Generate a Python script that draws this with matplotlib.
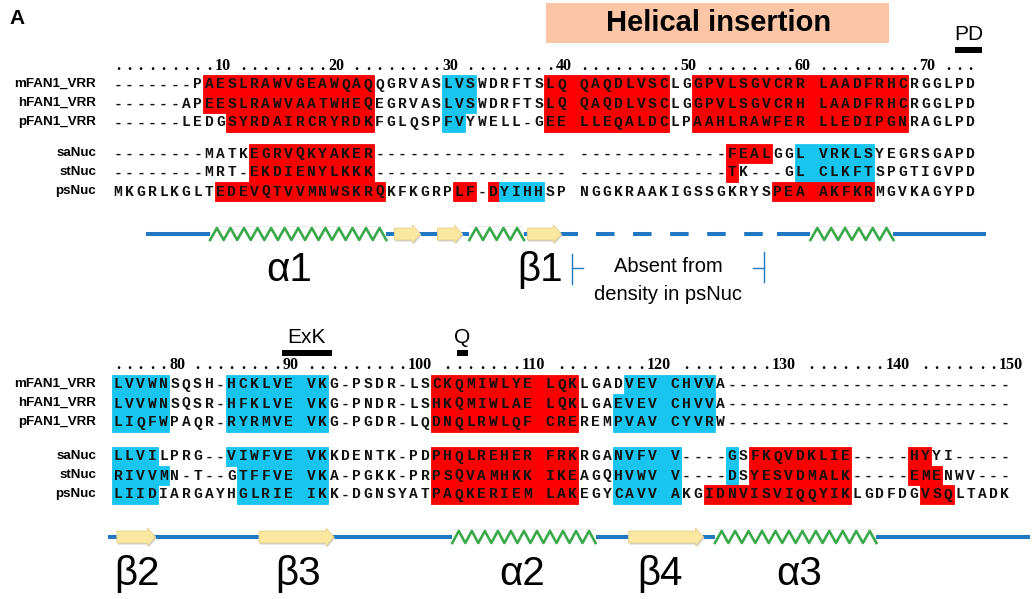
import numpy as np
import matplotlib
matplotlib.use("Agg")
import matplotlib.pyplot as plt
from matplotlib.patches import Rectangle, Polygon
from matplotlib import font_manager

# ---------------- data ----------------
names = ["mFAN1_VRR", "hFAN1_VRR", "pFAN1_VRR", "saNuc", "stNuc", "psNuc"]

block1_seqs = [
    "-------PAESLRAWVGEAWQAQQGRVASLVSWDRFTSLQ QAQDLVSCLGGPVLSGVCRR LAADFRHCRGGLPD",
    "------APEESLRAWVAATWHEQEGRVASLVSWDRFTSLQ QAQDLVSCLGGPVLSGVCRH LAADFRHCRGGLPD",
    "------LEDGSYRDAIRCRYRDKFGLQSPFVYWELL-GEE LLEQALDCLPAAHLRAWFER LLEDIPGNRAGLPD",
    "--------MATKEGRVQKYAKER----------------- -------------FEALGGL VRKLSYEGRSGAPD",
    "--------MRT-EKDIENYLKKK----------------- -------------TK---GL CLKFTSPGTIGVPD",
    "MKGRLKGLTEDEVQTVVMNWSKRQKFKGRPLF-DYIHHSP NGGKRAAKIGSSGKRYSPEA AKFKRMGVKAGYPD",
]
block2_seqs = [
    "LVVWNSQSH-HCKLVE VKG-PSDR-LSCKQMIWLYE LQKLGADVEV CHVVA-------------------------",
    "LVVWNSQSR-HFKLVE VKG-PNDR-LSHKQMIWLAE LQKLGAEVEV CHVVA-------------------------",
    "LIQFWPAQR-RYRMVE VKG-PGDR-LQDNQLRWLQF CREREMPVAV CYVRW-------------------------",
    "LLVILPRG--VIWFVE VKKDENTK-PDPHQLREHER FRKRGANVFV V----GSFKQVDKLIE-----HYYI-----",
    "RIVVMN-T--GTFFVE VKA-PGKK-PRPSQVAMHKK IKEAGQHVWV V----DSYESVDMALK-----EMENWV---",
    "LIIDIARGAYHGLRIE IKK-DGNSYATPAQKERIEM LAKEGYCAVV AKGIDNVISVIQQYIKLGDFDGVSQLTADK",
]
block_first_residue = [1, 75]

# highlighted column ranges (start, end, kind) per row
block1_hl = [
    [(9, 23, "r"), (30, 32, "c"), (39, 49, "r"), (52, 70, "r")],
    [(9, 23, "r"), (30, 32, "c"), (39, 49, "r"), (52, 70, "r")],
    [(11, 23, "r"), (30, 31, "c"), (39, 49, "r"), (52, 70, "r")],
    [(13, 23, "r"), (55, 58, "r"), (61, 67, "c")],
    [(13, 23, "r"), (55, 55, "r"), (61, 67, "c")],
    [(10, 24, "r"), (31, 32, "r"), (34, 34, "r"), (35, 38, "c"), (59, 67, "r")],
]
block2_hl = [
    [(1, 5, "c"), (11, 19, "c"), (29, 41, "r"), (46, 53, "c")],
    [(1, 5, "c"), (11, 19, "c"), (29, 41, "r"), (45, 53, "c")],
    [(1, 5, "c"), (11, 19, "c"), (29, 41, "r"), (45, 53, "c")],
    [(1, 4, "c"), (11, 19, "c"), (29, 41, "r"), (45, 50, "c"), (55, 55, "c"),
     (57, 65, "r"), (71, 72, "r")],
    [(1, 5, "c"), (12, 19, "c"), (29, 41, "r"), (45, 50, "c"), (55, 55, "c"),
     (57, 65, "r"), (71, 73, "r")],
    [(1, 4, "c"), (12, 19, "c"), (29, 41, "r"), (45, 50, "c"), (53, 65, "r"),
     (72, 74, "r")],
]

# secondary structure (kind, start col, end col)
block1_ss = [("helix", 9.1, 24.6), ("strand", 25.3, 27.6), ("strand", 29.1, 31.3),
             ("helix", 31.9, 36.7), ("strand", 37.0, 40.0), ("helix", 61.9, 69.2)]
block1_line = (3.5, 77.3)
block1_gap = (40.0, 59.0)
block2_ss = [("strand", 0.9, 4.3), ("strand", 13.4, 20.0), ("helix", 30.4, 43.0),
             ("strand", 45.9, 52.5), ("helix", 53.5, 67.7)]
block2_line = (0.1, 81.2)

block1_labels = [("α1", 16.1), ("β1", 38.1)]
block2_labels = [("β2", 2.7), ("β3", 16.8), ("α2", 36.5), ("β4", 48.7), ("α3", 60.9)]

# motif bars: (label, block, start col, end col)
motifs = [("PD", 0, 74.6, 77.0), ("ExK", 1, 15.4, 19.8), ("Q", 1, 30.8, 31.8)]

# ---------------- layout ----------------
W, H = 1035, 599
PITCH = 11.37
X0 = 118
ROW_H = 19
block_rows_y = [[84, 103, 122, 153, 172, 191], [384, 403, 422, 456, 475, 494]]
ruler_y = [70, 369]
ss_y = [234, 537]
lab_y = [270, 574]
motif_y = [50, 353]

RED = "#fb0000"
CYAN = "#17c5ef"
BLUE = "#1f78c1"
GREEN = "#3aa94a"
YEL = "#fae8a1"

avail = {f.name for f in font_manager.fontManager.ttflist}
NARROW = "Liberation Sans Narrow" if "Liberation Sans Narrow" in avail else "Liberation Sans"
MONO = "Liberation Mono"
SERIF = "Liberation Serif"
SANS = "Liberation Sans"

fig = plt.figure(figsize=(W / 100, H / 100), dpi=100)
ax = fig.add_axes([0, 0, 1, 1])
ax.set_xlim(1 - X0 / PITCH, 1 + (W - X0) / PITCH)
ax.set_ylim(H, 0)
ax.axis("off")


def px2col(px):
    return 1 + (px - X0) / PITCH


colmap = {"r": RED, "c": CYAN}

for b, (seqs, hls) in enumerate([(block1_seqs, block1_hl), (block2_seqs, block2_hl)]):
    ys = block_rows_y[b]
    # highlights
    for r, ranges in enumerate(hls):
        for s, e, k in ranges:
            ax.add_patch(Rectangle((s - 0.5, ys[r] - ROW_H / 2), e - s + 1, ROW_H,
                                   facecolor=colmap[k], edgecolor=colmap[k], lw=0.6, zorder=1))
    # names and residues
    for r, seq in enumerate(seqs):
        ax.text(px2col(96), ys[r], names[r], ha="right", va="center", fontsize=9.6,
                family=SANS, weight="bold", zorder=3)
        for i, ch in enumerate(seq):
            if ch == " ":
                continue
            ax.text(i + 1, ys[r] + 0.5, ch, ha="center", va="center", fontsize=10.5,
                    family=MONO, weight="bold", color="#111111", zorder=3)
    # ruler
    ref = seqs[0]
    res = block_first_residue[b]
    occupied = set()
    labels = []
    for i, ch in enumerate(ref):
        if ch == " ":
            continue
        if res % 10 == 0:
            lab = str(res)
            labels.append((i + 1, lab))
            for k in range(len(lab)):
                occupied.add(i + 1 + k)
        res += 1
    for c in range(1, len(ref) + 1):
        if c not in occupied:
            ax.text(c, ruler_y[b], ".", ha="center", va="baseline", fontsize=11.5,
                    family=SERIF, weight="bold")
    for c, lab in labels:
        ax.text(c - 0.5, ruler_y[b], lab, ha="left", va="baseline", fontsize=11.5,
                family=SERIF, weight="bold")


def draw_track(b, ss, line, gap=None):
    y = ss_y[b]
    lw = 2.9
    if gap is None:
        ax.plot(line, [y, y], color=BLUE, lw=lw, solid_capstyle="butt", zorder=2)
    else:
        ax.plot([line[0], gap[0] + 1.5], [y, y], color=BLUE, lw=lw, solid_capstyle="butt", zorder=2)
        ax.plot([gap[0] + 3.0, gap[1]], [y, y], color=BLUE, lw=lw,
                linestyle=(0, (4.6, 4.6)), dash_capstyle="butt", zorder=2)
        ax.plot([gap[1], line[1]], [y, y], color=BLUE, lw=lw, solid_capstyle="butt", zorder=2)
    for kind, s, e in ss:
        if kind == "helix":
            ax.add_patch(Rectangle((s, y - 8), e - s, 16, facecolor="white",
                                   edgecolor="none", zorder=3))
            ax.add_patch(Rectangle((s, y - 8), e - s, 1.2, facecolor="#ececec",
                                   edgecolor="none", zorder=3))
            per = 13.2 / PITCH
            n = max(1, int(round((e - s) / per)))
            k = np.arange(2 * n + 1)
            xs = s + (e - s) * k / (2 * n)
            ys_ = y + np.where(k % 2 == 0, 6.0, -6.0)
            ax.plot(xs, ys_, color=GREEN, lw=1.9, solid_joinstyle="round", zorder=4)
        else:
            hl = 8.0 / PITCH
            pts = [(s, y - 6), (e - hl, y - 6), (e - hl, y - 9), (e, y),
                   (e - hl, y + 9), (e - hl, y + 6), (s, y + 6)]
            ax.add_patch(Polygon([(px + 0.08, py + 1.5) for px, py in pts],
                                 closed=True, facecolor="#cfcfcf", edgecolor="none", zorder=3))
            ax.add_patch(Polygon(pts, closed=True, facecolor=YEL, edgecolor="#e6d28e",
                                 lw=0.6, zorder=4))


draw_track(0, block1_ss, block1_line, block1_gap)
draw_track(1, block2_ss, block2_line)

for b, labs in enumerate([block1_labels, block2_labels]):
    for lab, c in labs:
        ax.text(c, lab_y[b], lab, ha="center", va="center", fontsize=29, family=NARROW)

# absent-from-density bracket
by = 268
for c0, c1 in [(px2col(572), px2col(583)), (px2col(753), px2col(764))]:
    ax.plot([c0, c1], [by, by], color=BLUE, lw=1.0)
ax.plot([px2col(572)] * 2, [254, 284], color=BLUE, lw=1.0)
ax.plot([px2col(764)] * 2, [252, 282], color=BLUE, lw=1.0)
ax.text(px2col(668), 266, "Absent from", ha="center", va="center", fontsize=14.5, family=NARROW)
ax.text(px2col(668), 294, "density in psNuc", ha="center", va="center", fontsize=14.5, family=NARROW)

# motifs
for lab, b, s, e in motifs:
    y = motif_y[b]
    ax.add_patch(Rectangle((s, y - 3), e - s, 6, facecolor="black", edgecolor="none"))
    ax.text((s + e) / 2, y - 6, lab, ha="center", va="bottom", fontsize=15, family=NARROW)

# helical insertion banner
ax.add_patch(Rectangle((px2col(546), 3), px2col(889) - px2col(546), 40,
                       facecolor="#fcc6a6", edgecolor="none"))
ax.text(px2col(719), 23, "Helical insertion", ha="center", va="center", fontsize=21,
        family=NARROW, weight="bold")

ax.text(px2col(9), 18, "A", ha="left", va="center", fontsize=15, family=NARROW, weight="bold")

fig.savefig("out.png", dpi=100)
